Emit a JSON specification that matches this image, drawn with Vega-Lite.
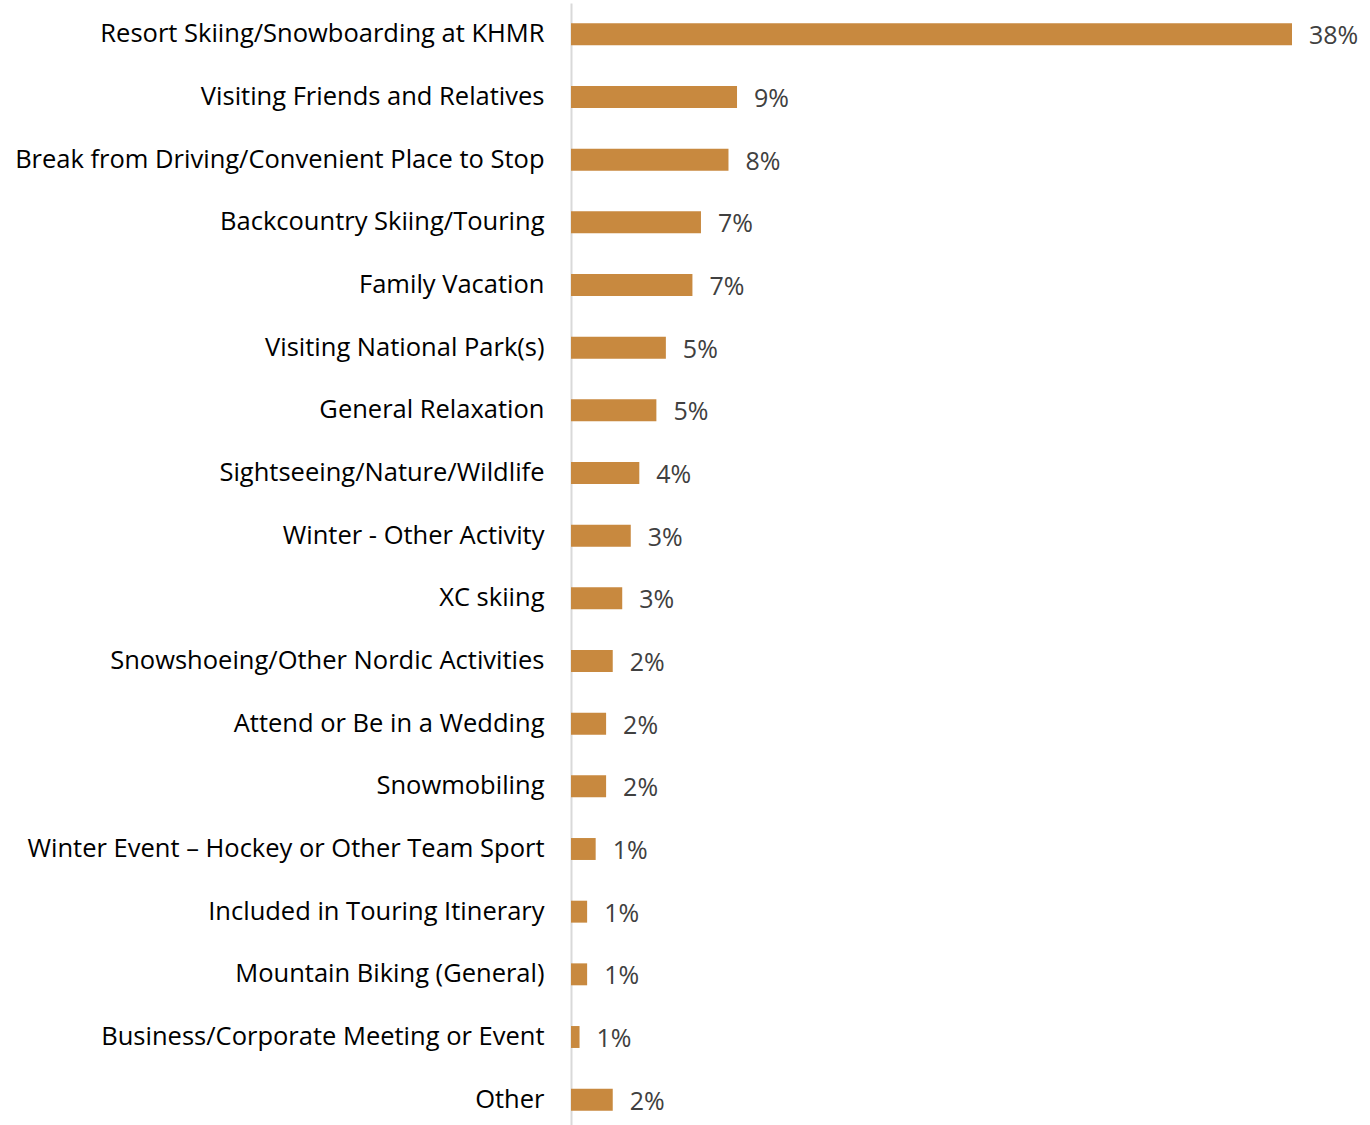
{
  "$schema": "https://vega.github.io/schema/vega-lite/v6.json",
  "autosize": "none",
  "padding": {"left": 571, "top": 3, "right": 78, "bottom": 0},
  "width": 721,
  "height": 1128,
  "background": "white",
  "config": {"view": {"stroke": null}, "font": "Open Sans"},
  "data": {"values": [
    {"cat": "Resort Skiing/Snowboarding at KHMR", "v": 38.0, "label": "38%"},
    {"cat": "Visiting Friends and Relatives", "v": 8.75, "label": "9%"},
    {"cat": "Break from Driving/Convenient Place to Stop", "v": 8.3, "label": "8%"},
    {"cat": "Backcountry Skiing/Touring", "v": 6.85, "label": "7%"},
    {"cat": "Family Vacation", "v": 6.4, "label": "7%"},
    {"cat": "Visiting National Park(s)", "v": 5.0, "label": "5%"},
    {"cat": "General Relaxation", "v": 4.5, "label": "5%"},
    {"cat": "Sightseeing/Nature/Wildlife", "v": 3.6, "label": "4%"},
    {"cat": "Winter - Other Activity", "v": 3.15, "label": "3%"},
    {"cat": "XC skiing", "v": 2.7, "label": "3%"},
    {"cat": "Snowshoeing/Other Nordic Activities", "v": 2.2, "label": "2%"},
    {"cat": "Attend or Be in a Wedding", "v": 1.85, "label": "2%"},
    {"cat": "Snowmobiling", "v": 1.85, "label": "2%"},
    {"cat": "Winter Event – Hockey or Other Team Sport", "v": 1.3, "label": "1%"},
    {"cat": "Included in Touring Itinerary", "v": 0.85, "label": "1%"},
    {"cat": "Mountain Biking (General)", "v": 0.85, "label": "1%"},
    {"cat": "Business/Corporate Meeting or Event", "v": 0.45, "label": "1%"},
    {"cat": "Other", "v": 2.2, "label": "2%"}
  ]},
  "encoding": {
    "y": {"field": "cat", "type": "nominal", "sort": null,
      "scale": {"paddingInner": 0.65, "paddingOuter": 0.325},
      "axis": {"title": null, "ticks": false, "domainColor": "#d9d9d9", "domainWidth": 2,
        "labelFontSize": 25.5, "labelColor": "#000000", "labelPadding": 27, "labelLimit": 0,
        "labelFont": "Open Sans"}},
    "x": {"field": "v", "type": "quantitative", "scale": {"domain": [0, 38], "nice": false}, "axis": null}
  },
  "layer": [
    {"mark": {"type": "bar", "color": "#C8893F"}},
    {"mark": {"type": "text", "align": "left", "baseline": "middle", "dx": 17, "dy": 2, "fontSize": 25, "color": "#404040", "font": "Open Sans"},
      "encoding": {"text": {"field": "label"}}}
  ]
}
